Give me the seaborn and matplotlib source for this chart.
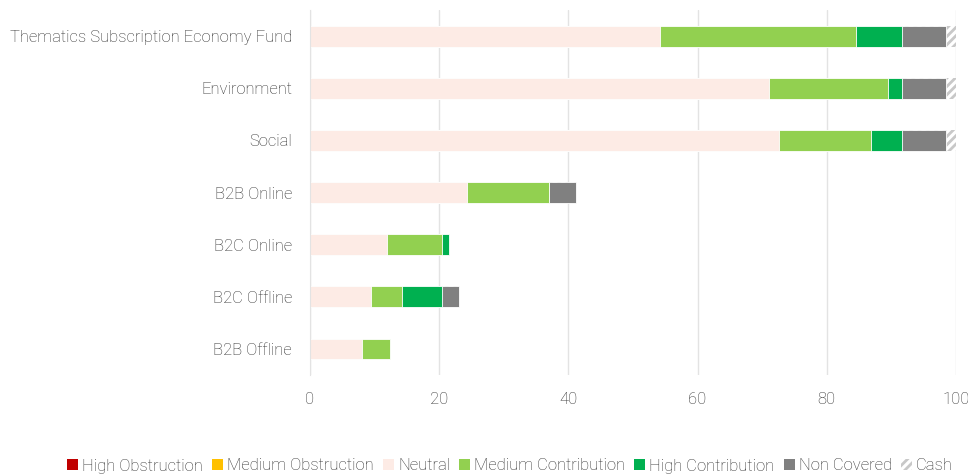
import numpy as np
import pandas as pd
import matplotlib.pyplot as plt
import seaborn as sns
from matplotlib.patches import Patch

# categories, top to bottom
funds = ['Thematics Subscription Economy Fund', 'Environment', 'Social',
         'B2B Online', 'B2C Online', 'B2C Offline', 'B2B Offline']

# share of each fund per impact bucket (%)
high_obstruction = [0, 0, 0, 0, 0, 0, 0]
medium_obstruction = [0, 0, 0, 0, 0, 0, 0]
neutral = [54.2, 71.1, 72.6, 24.3, 11.9, 9.5, 8.1]
medium_contribution = [30.3, 18.4, 14.2, 12.7, 8.6, 4.8, 4.3]
high_contribution = [7.2, 2.2, 4.9, 0, 1.0, 6.2, 0]
non_covered = [6.8, 6.8, 6.8, 4.2, 0, 2.6, 0]
cash = [1.5, 1.5, 1.5, 0, 0, 0, 0]

buckets = ['High Obstruction', 'Medium Obstruction', 'Neutral', 'Medium Contribution',
           'High Contribution', 'Non Covered', 'Cash']
colors = ['#c00000', '#ffc000', '#fdebe5', '#92d050', '#00b050', '#808080', 'white']

df = pd.DataFrame({
    'fund': funds,
    'High Obstruction': high_obstruction,
    'Medium Obstruction': medium_obstruction,
    'Neutral': neutral,
    'Medium Contribution': medium_contribution,
    'High Contribution': high_contribution,
    'Non Covered': non_covered,
    'Cash': cash,
})
cum = df[buckets].cumsum(axis=1)
cum['fund'] = df['fund']

sns.set_style('white')
plt.rcParams['font.family'] = ['Roboto', 'DejaVu Sans']
plt.rcParams['font.weight'] = 'light'
plt.rcParams['hatch.linewidth'] = 2.0
text_col = '#2e2e2e'

fig = plt.figure(figsize=(9.68, 4.75), dpi=100)
ax = fig.add_axes([310 / 968, 1 - 375 / 475, (956 - 310) / 968, 365 / 475])

# draw cumulative layers from the outside in so they stack
for b, c in reversed(list(zip(buckets, colors))):
    if df[b].sum() == 0:
        continue
    n0 = len(ax.patches)
    sns.barplot(data=cum, x=b, y='fund', orient='h', color=c, saturation=1,
                width=0.4, ax=ax, edgecolor='white', linewidth=0.6)
    if b == 'Cash':
        for p in ax.patches[n0:]:
            p.set_hatch('////')
            p.set_edgecolor('#c8c8c8')
            p.set_linewidth(0)

ax.set_xlim(0, 100)
ax.set_ylim(6.5, -0.5)
ax.set_xticks(range(0, 101, 20))
ax.set_xlabel('')
ax.set_ylabel('')
ax.grid(axis='x', color='#e3e3e3', linewidth=1)
ax.set_axisbelow(True)
for s in ['top', 'right', 'bottom']:
    ax.spines[s].set_visible(False)
ax.spines['left'].set_color('#e3e3e3')
ax.tick_params(axis='y', length=0, pad=13, labelsize=12, labelcolor=text_col)
ax.tick_params(axis='x', length=0, pad=12, labelsize=12, labelcolor=text_col)
ax.set_yticks(np.arange(-0.5, 7, 1), minor=True)
ax.tick_params(axis='y', which='minor', length=6, color='#e3e3e3', width=1)

handles = []
for b, c in zip(buckets, colors):
    if b == 'Cash':
        handles.append(Patch(facecolor='white', edgecolor='#c8c8c8', hatch='////', linewidth=0, label=b))
    else:
        handles.append(Patch(facecolor=c, edgecolor='none', label=b))
leg = fig.legend(handles=handles, loc='center', ncol=7,
                 frameon=False, fontsize=12, handlelength=0.65, handleheight=0.65,
                 handletextpad=0.25, columnspacing=0.55, labelcolor=text_col)
leg.set_bbox_to_anchor((0.527, 1 - 466 / 475), transform=fig.transFigure)

fig.savefig('out.png', dpi=100)
